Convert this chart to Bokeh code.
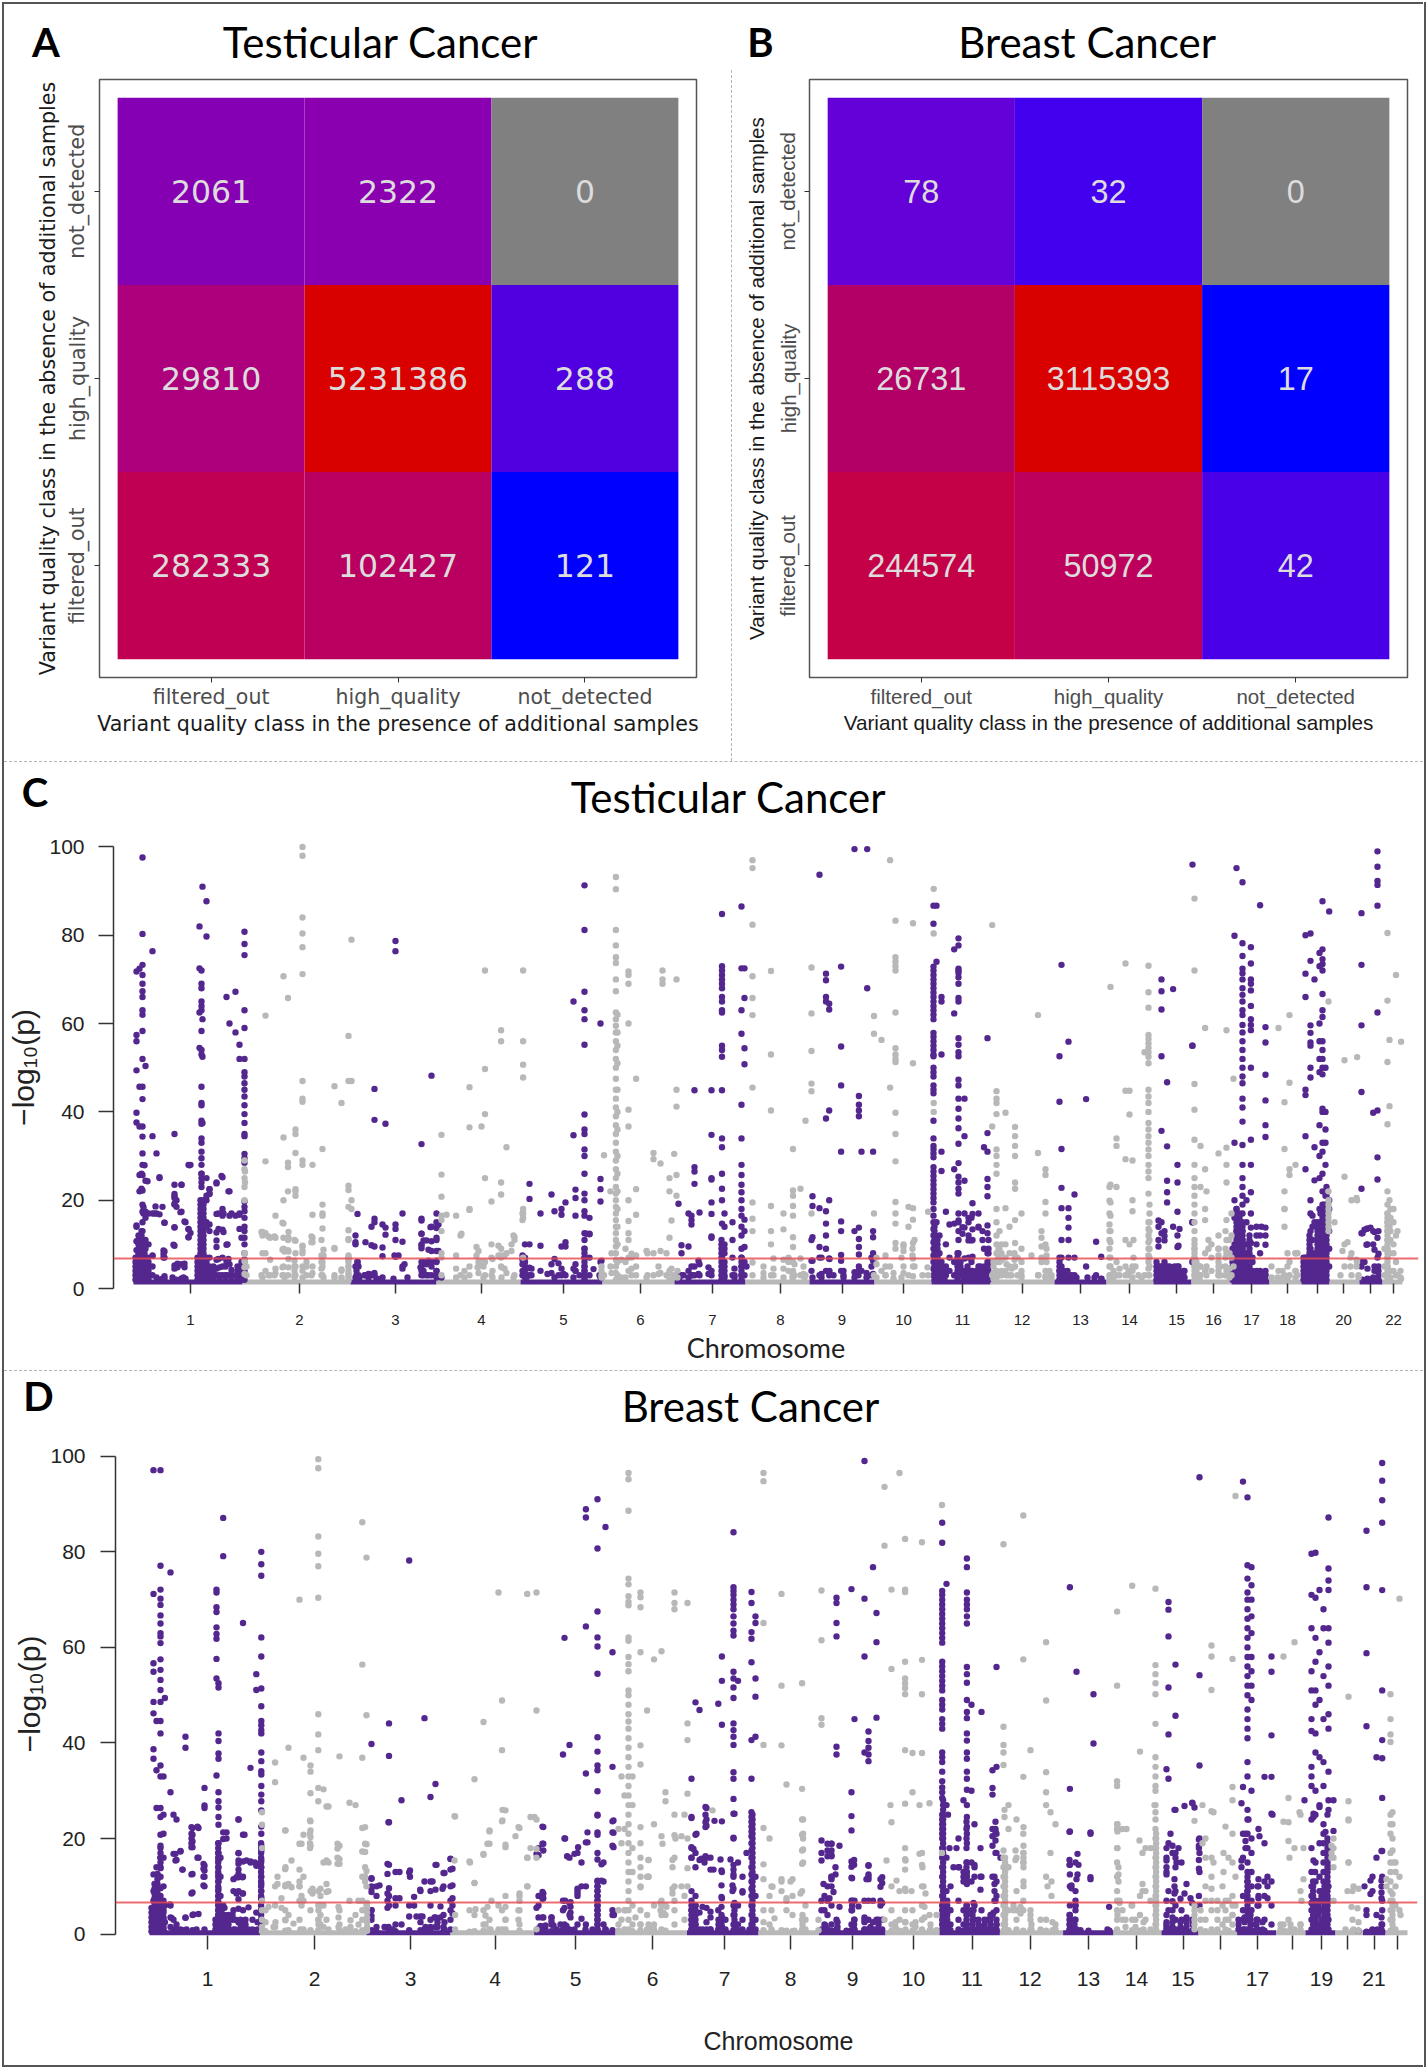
from bokeh.embed import file_html
from bokeh.resources import INLINE
from bokeh.plotting import figure
from bokeh.layouts import column, row
from bokeh.models import (ColumnDataSource, FactorRange, FixedTicker, Range1d, Spacer, Span)
from bokeh.core.properties import value

CLASSES = ["filtered_out", "high_quality", "not_detected"]
HEAT_X = CLASSES * 3
HEAT_Y = ["filtered_out"] * 3 + ["high_quality"] * 3 + ["not_detected"] * 3
A_COUNTS = [282333, 102427, 121, 29810, 5231386, 288, 2061, 2322, 0]
B_COUNTS = [244574, 50972, 42, 26731, 3115393, 17, 78, 32, 0]
A_COLORS = ["#c00052", "#b90060", "#0000ff", "#ac007c", "#d90000", "#5000e0", "#8600b3", "#8a00b0", "#808080"]
B_COLORS = ["#c40046", "#bd005c", "#4a00e6", "#b30066", "#d90000", "#0000ff", "#6400d8", "#4300ee", "#808080"]

# ---- Manhattan data: (genome position, -log10 p, -log10 p, ...)
C_CHROM_TICKS = [189, 298, 394, 480, 562, 639, 711, 779, 840.5, 902, 961, 1020.5, 1079, 1128, 1175, 1212, 1250, 1286, 1316, 1342, 1369, 1392]
C_CHROM_LABELS = ["1", "2", "3", "4", "5", "6", "7", "8", "9", "10", "11", "12", "13", "14", "15", "16", "17", "18", "", "20", "", "22"]
C_BOUNDS = [132, 241, 349, 435, 519, 601, 673, 744, 808, 873, 930, 989, 1053, 1105, 1152, 1190, 1230, 1268, 1300, 1328, 1358, 1381, 1401]
C_FLOOR = 1.5

C_PURPLE = [
 (135,71.8,57.4,56,49.4,39.8,37.6,14,10.7,8.7,7,5,4,3,2.5,2),
 (138,72.4,45.7,36.7,25.7,22,11.6,9.5,6,4.5,3.5,2.5,2),
 (141,97.6,80.3,73.3,71,69,67.3,66,63,62,58.3,52,45.7,42.9,36.7,34.4,30.6,28,25.7,22.2,19,17.4,15,13,11,9.5,8,7,6,5,4,3,2),
 (144,50.4,24.4,17.4,16,11,9,7,6,5,4,3,2),(147,17,10,6,5,4,3,2.2),(151,76.4,34.5,17,7.4,5,3),(155,30.6,17,2.5),
 (158,25,16.8,2),(161,18.5,2.2),(163,14.9,8.4,7,2.2),(173,35,23.5,20.9,19,13.8,9.7,5.2,4.5,2),(175,20,18.5,2),
 (180,23.5,17.4,5.5,2.3),(184,15,2.2),(187,28,13.4,11.6),(189,28,12.6),
 (198,82,72.5,62.5,54.5,7,5,4,3,2.5),
 (200,72,69,68,65,64,63,58.3,54,53,45.7,42,41.5,38,37.3,34,33,31,29.5,28,26,25,23,19.5,18.5,17.5,17,14.5,12,8.5,7,6,5,4,3,2),
 (201,91,61,52.5,37.5,19,17,16,14.5,10,7,5,3),(205,87.7,79.7,25,21,20,14.5,5,3),(208,22.5,21.5,14.5,7,3),
 (215,23.8,16.9,12.7,6.5,4.5,3),(221,25.2,18,16.5,13.3,7,5,3),(225,66,9.9,6,3),(228,60,22,16.5,5.5,3),
 (234,67.2,58,16.5,3),(238,55.2,52,16.7,3.5,2.5),
 (243,80.8,78,75.5,63,59,52,49,48,46.5,45,43.5,41.5,39.5,37.5,35,34.5,30.5,29.5,28.5,19.7,18.5,17.5,16,14,13,11.5,10,8,6.5,5,4,3,2),
 (354,12,10.5,10,5,2.5),(356,16.9,6),(364,10.5,3),(370,14,9.8,3.2),(373,45.2,38.2,15.8,15,9.5,3.5),(381,14.5,9.3,7.3,2.5),(384,37.3,13.8,12.2),
 (394,78.7,76.4,14.5,13.5,11,7.2),(401,17,10.6,5,4.5),(420,32.7,15.8,12.4,10,9.1,6,5,4,3),(425,10.9,5.5,3),
 (430,48.2,14,10.7,8.5,6,5,3),(435,17,15,13.7,11.5,8.5,6,4,2.5),
 (523.5,10,7,6,5,3.5,2.5),(528,23.7,20.3,10,4.7,3),(539,9.7,17,4),(550,21.3,5.5,3.5),(553,17.5,2.5),(560,18,16.7,9.5,4.5,3),
 (564,19.5,10.5,9.5,3),(572,65,34.7,4.5,2.5),(574,22.4,20.5,16.5,4),
 (583,91.3,81.2,67.2,63,61,55.2,39.4,36,35,31.5,30,26,21.5,20,17.5,16.5,12.5,11,9,7,5,4,3,2),(588,16,12.3,7,3),(599,60,24.8,22.5,19.7,6,2.5),
 (677,19.2,3),(680,9.8,8,3),(687,9.5,17,4,2.5),(690,16.5,15.5,14.5,3),(693,44.9,27.5,26.5,23.7,5,3),(698,17.2,5.5,3),
 (710,44.9,34.8,25,24.7,19.5,16.9,11.8,11.5,4,3),
 (720.5,84.8,73,72,71,70,69,68,66,65,63,62.5,55,54,52.5,44.9,34,32,26,22.6,20,14.7,10,7,5,3),
 (723,17,14,9,5,3),(731,15,11,7,3),
 (740,86.5,72.5,63,57.7,41.6,34,28,25.7,23.5,21.8,20,18,16.5,14,12,9,7,5,3),(743,72.5,65.8,54.4,50.8,15.6,13,9.4,6,3),
 (811,20.9,18.7,11.6,6.3,2.5),(818,93.7,18.2,9.4,7,3),(824.5,71.3,69.8,66,65,38.5,17.5,14.7,12,9,4),
 (827.7,64.5,63.2,40.3,20,6.8,3),(839.6,72.9,54.8,46,31,15.2,13,7.6,6.3,4),(853,99.5,13,3.7,2.5),
 (857.4,43.6,41.6,40.3,39,13.8,11.2,9.4,7.7,5),(860,31,4),(865.7,99.5,68,2.8),(871.6,31,13,11.6,8,6.3,3.3),
 (932,86.7,82.6,72.9,72,71,70,69,68,67,66,65,64,63,62,61,57.9,57,56,55,54,53,52.6,50,49,48,46,45,44.2,38,34,32.3,31.5,30.6,29.7,27.5,26.5,25.5,24.5,23.5,22.5,21.5,20.5,19.5,18,16.5,15,13.5,12,10.5,9,7.5,6,4.5,3),
 (935,86.7,74,15,10,7,5,3),(938,12,8,4,2.5),(940,66,65,53,31,26.6,6,3),(944.4,17.4,10,5,3),(948,14.5,7,4),(952.7,76.8,62.3,27,14.7,6,3),
 (957,79.3,77.7,72.4,72,71.5,70.5,69,65.8,65,56.7,55.2,53.5,52.6,47.3,46,43,40.7,38.5,36.3,32.8,28.4,25.3,24,22.6,21.5,17,15,13,11,8,6,4,3),
 (963,43,34.5,24.4,17,13.8,6.8,3),(967,16,12,7,4),(971,19.3,13.4,11,7.2,4),(977,17,13.8,5,2.5),(982.5,32,9,4),
 (986,56.7,35.2,31,24.8,23,20.9,14.3,12.5,8,6,4,2.5),
 (1060,73.3,31.6,22.8,18.2,11,7,5,3,2.2),(1058,52.6,42.3,4,2),(1067,55.9,18.2,16,13.8,11,7,3),(1073,21.3,7,3),(1084.6,42.9,5),(1094.6,10.6,3),(1099.7,7.2,2.2),
 (1160,70,67.3,63.2,52.6,35.7,15,12.5,5,3.5,2),(1165.6,46.7,32.2,24.4,21.8,19.5,5,3),(1171.6,67.8,14,4),(1176,28,24,17.4,12,9.4,5,3),(1183,4,2.5),(1190.8,55,15,6),
 (1191,96,55),(1233,79.9,33,20,16,10,7,5,3),
 (1235,95.2,18,13,9,6,4),
 (1241,92,78.2,75.3,72.4,71.4,70,68,66.5,65,63,61.9,59.7,58,56,54,52,50,48,46.5,43,41,37.8,32.5,28,25,23,21,19,17,15,13,11,9,7,5,3),
 (1245,20,15,10,6,3),(1249.4,77.3,73.6,70,69,67.5,64,61,59.7,58.5,50,33.7,28,21.8,17,13.8,10.3,6.8,3),(1258.6,86.8,12,8,4),(1264,59.2,55.7,48.4,42.6,37,34.3,13.8,12,9.9,3),
 (1304,80,71.3,66,45,43.8,34.5,27,7,5.5,4,3),(1309,80.4,74.2,59.6,57.9,55.7,55,50,47.8,20,17,13,11,9,7,5,3),(1313,70,32,24.5,15,8,4),
 (1318,76,73,60,56,52,49,37,30,25,18,14,10,7,5,3),(1321,87.7,76.8,74.6,73.5,72,66.7,63,61.5,56,54,52,50,48.5,40.7,40,33,31,26,22,19,16,14,12,10,8,6,4,2.5),
 (1324,50,40,36,33,28,21,19,17,15,13,11,9,7,5,3),(1327.7,85.4,20,18,13,9,5),
 (1360,85,73.3,59.6,44.5,22.6,12.5,5),(1363,13.3,6),(1366,13.6,10,4.5,2.2),(1371.7,39.8,13,10,2.5),(1376,99,95.5,92.3,91.4,86.7,62.5,40.3,29.7,24.7,11.5,7,4,2.2),
]
C_PURPLE_LOW = [
 (134,2,3,4,5,6,7),(137,2,3,4,5,6,7,8,9,10,11,12),(140,2,3,4,5,6,7,8,9,10,11,12,13),(143,2,3,4,5,6,7,8,9,10,11),(146,2,3,4,5,6,7),(135,14.3),(142,18.4,17),
 (153,17),(154,18.6),(163,14.9),(151,7.5),(162,8.6,7.8,7),(172,9.9),(173,13.9),(173,21.4,20.5,19.2),(180,23.5),(179,17.3),(183,15.2),(187,13.5,11.6),(176,5.6,4.8),(183,5.6,4.8),(143,27.9),(140,26),(146,24.3),(158,25.2),(140,22.6),(188,27.9),
 (163,2.8),(171,2.5),(182,2.5),
 (196,2,3,4,5,6,7),(199,2,3,4,5,6,7,8,9,10,11,12,13,14,15,16,17,18,19,20),(202,2,3,4,5,6,7,8,9,10,11,12,13,14,15,16,17,18,19,20),(205,2,3,4,5,6,7,14,15),(208,2,3,4,5,13),
 (200,26,24),(208,22.5,21.4),(220,25.5),(215,24),(227,22),(217,17),(222,17),(230,17),(238,17),(217,13.5),(222,12.8),(215,10.9,9.4),(226,10),(238,13.5),(240,11.5),(217,6.7),(227,6.7),
 (212,2,3,4,5),(218,2,3,4.8),(224,2,3,5),(230,2,3,4.2),(236,2,3,4,5),(240,2,3,4,5,6),
 (356,6),(355,4,2.5,3),(357,5,3),(358,2.5),(363,3),(367,2.5,3.3),(370,3),(373,3),(375,2.3),(380,2.2),(392,2.2),(393,7.5),(397,7.5),(403,5.5),(406,2.5),
 (420,15.4),(429,13.9),(437,14.5),(420,12.4),(422,10.9),(435,11),(420,9.7),(427,8.8),(437,8.5),(422,6,4,3),(419,4.8),(427,6.3,3),(435,6.3,4,3),(440,2.5),
 (521,7.5,6.5,5.5,4,3),(525,4.5,3,2.5),(530,4.5,3),(546,3.3),(553,6.7),(557,5.7),(557,3),(562,3.3),(574,5.5,4),(578,3),(583,9,8,7,6,5,4,3,2),(585,12.4),(588,12.4),(592,4.4),(600,6.3),(598,3),(600,2.5),
 (678,2.5),(682,3),(690,5,3),(697,6.3,3.3),(707,4.8,3.3),(720,11,10,9,8,7,6,5,4,3,2),(723,10,8,6,4,2.5),(733,4.5,3,2.5),(740,7,6,5,4,3,2),(745,5),
 (810,11,6.3,4),(820,7,3.3,2.5),(828,6.7,4),(832,3),(842,4,3,2.5),(857,4,3),(865,3.5,2.5),(870,7,5,3),
 (933,2,3,4,5,6,7,8,9,10,11,12,13,14),(936,2,3,4,5,6,7,8,9,10,11),(939,2,3,4,5,6),(943,2,3,4),(956,2,3,4,5,6,7,8),(959,3,4,5,6),(962,2,3,4),(966,2,3,4,5),(970,2,3,4,6),(975,2,3,4),(979,2,3,4,5),(983,2,3,4,5),(987,2,3,4,5,6,8,9,11),
 (961,13.9,12.4),(967,15,10.9),(970,16),(957,15.4),(971,16.9),(977,14),(970,10.9),(981,13,11),
 (1058,2,3,4,5,6,7),(1062,2,3,4),(1066,2,3,4),(1070,2,3),(1075,2.5),(1100,2.2),(1086,2.5),(1093,2.5),
 (1155,2,3,4,5,6),(1158,2,3,4,5),(1163,2,3,4,5),(1168,2,3,4,5),(1173,2,3,4,5),(1177,2,3,4,5),(1182,2,3,4),(1157,15.4,14),(1163,13,11.9,10.9),(1157,11,9.5),(1178,13.5),(1177,9.7),(1163,6),(1191,15),
 (1231,2,3,4,5,6,7,8,9),(1235,2,3,4,5,6,7,8,9,10,11,12,13,14,15,16,17,18),(1238,2,3,4,5,6,7,8,9,10,11,12,13,14,15,16,17),(1241,2,3,4,5,6,7,8,9,10,11,12,13,14),(1245,2,3,4,5,6,7,8),(1248,2,3,4,5,7,8,9,11,12),(1251,2,3,4,6,7),(1255,2,3,4,10,12,14),(1260,2,3,14),(1264,2,3,4),
 (1302,2,3,4,5,6,7),(1305,2,3,4,5,6,7),(1308,2,3,4,5,6,7,8,9,10,11,12),(1311,2,3,4,5,6,7,11,14,16.5),
 (1316,2,3,4,5,6,7,8,9,10,11,12,13,14,15),(1319,2,3,4,5,6,7,8,9,10,11,12,13,14,15,17),(1322,2,3,4,5,6,7,8,9,10,11,12,13,14,15,16,17,18,19),(1325,2,3,4,5,6,7,8,9,10,11,12,13,15,17,19,21,23),
 (1361,2,6,12.5),(1365,2,13.5,9.9),(1369,2,13.8),(1373,2,5,4,12.8,8.8),(1377,2,3,4,5,13,7.9),
]
C_GREY = [
 (243.5,26.5,24,8,6),(261,12.8,12,8,2.5),(264,61.8,28.8,12.5,8,4),(268.6,11.5,6.5,3),(274,11.5,16.5,4.5,3.5),
 (282,70.7,34.2,20,14.7,11.5,9,5,3),(286.5,65.8,28.5,27.5,22,11,8.7,3),(294,36,35,30.7,22.5,22,21,10.8,8,5,3),
 (301,100,98,84,80.4,77.3,71.2,47,43,42.3,29,28,9.5,8,5,4,2.5),(311,28,16.7,11.5,10.5,5,3.5),(321,31.6,19,17,16.5,13.6,7.5,6,5,3),
 (333,45.8,9,3),(340,42,4.3,2.5),(347,57.2,47,23.3,22.3,18.5,13.2,11.2,7,6.5,5,3),(350,79,47),
 (440,34.8,25.8,20.8,16.5,15.5,13,8,7,3),(454.6,16.5,7.5,4.5,2.5),(459,12,3),(468,45.6,36.5,17.8,5,3),(477,8.5,6,5,3.5),(480,36.7,6),
 (483.5,72,49.7,39.5,25,6,3),(490,19.7,10,7,3),(499.6,58.5,56,24,21.3,9,7,5),(505,32,8,3.5),(513,11.7,11,3),(521.6,72,56,50.7,47.8,18,17,16,7),
 (602.5,30.2,3),(609,22,5),
 (614.4,93.2,90.4,81.2,77.7,75,73.7,70,67.3,62.5,61,59.5,58,56,54,52,50,47.5,45,43,41,39,37,35,33,31,29,27,25,23,21.5,20,18.5,17,15.5,14,12.5,11,9.5,8,6.5,5,3.5,2),
 (616,62,58,55,51,45,40,36,30,26,22,18,14,10,6,3),(627,71.8,71,69,60,40.5,36.7,20,15.3,12.5,11,7,4),(634.6,47.5,22.5,16.7,7.5,5,3),
 (646,8,3),(652,30.7,29.3,8,3),(659,28.3,8.5,3.5),(661,72,70,69),(668,25,22,11.5,4),(672.7,30.5,3),(675,70,45,41.2,25.7,21),
 (751,97,95.2,82.4,70.7,65.8,61.9,45.5,19.5,15.8,13,5.9,3),(769.5,71.9,53,40.3,18.7,13,10,3),(782,17,13.4,6.5,4.5,2.5),
 (791.5,31.6,22.2,21,18.7,16.5,11.6,9.4,6,4,2.5),(799,22.6,6.8,3),(804,38,3),(810,72.7,62.3,53.8,46.4,44.7,17),
 (872.5,61.7,57.7,17,3),(880,56.3,4),(884,7.5,3),(888.6,97,45.5,5),(894,83.3,75,74,73,72,62.5,54.4,53,52,51.3,39.8,35,28.8,19.6,17,14.7,10.3,9),
 (902,3.5,5),(907,18.5,14,3),(911.5,82.7,51,18.2,15.6,10.3,6.8,5,2.8),(926.6,17.4,3),(932.2,90.5,80.4,42,40),
 (995,44.7,43,42,39.5,31.5,30,28,26,18,15,12,10,8,6,4,2.5),(990.7,82.3,36.7,3),(998,13,9,6,3),(1004,39.8,18.2,10,7,4),(1008,14,8,5,3),
 (1013.6,36.6,34.5,32.3,30,24,22.6,15.5,10.3,7.2,5),(1020,17,9,6,3),(1036.5,61.9,30.7,3),(1040,13,9.5,6),(1044,27,25.7,19.6,17,10,2.8),(1050,3,2.2),
 (1109,68.3,23.5,19.5,16.5,13,10.5,7,5,3),(1115,34,32.3,23,6,3),(1124,73.6,44.8,29.3,11,5,3),(1128,44.8,39.4,10,4),(1131,29,20,17.5,5),
 (1143,53.5,3),(1147,73.1,67.1,63.6,57.4,56.5,55.5,54.5,53.5,52.5,51,45,43.5,42,40,37.5,36,34.5,33,31.5,30,28,26.5,25,21.5,15,13.5,12,10.5,9,7.5,6,4.5,3),
 (1193,88.3,72,46.3,40.5,33.7,28,25,23,21,19,17,15,13,11,9,7,5,3),(1199,32.3,23,5,3),(1203.6,59,27,18,15.5,8,4),(1210,10,7,4),(1217,30.6,12,9,5,3),
 (1225,58.5,31.9,28,24,15.5,11,8,4),(1230,17,12,7,3),(1232,47.5,5),
 (1277,59,4),(1283,42.2,31.6,18,14,3),(1288,61.9,46.6,25.7,27,6,3),(1294,28,8,4),(1327,65,19,17,15,13),
 (1343,51.7,25.3,10,5),(1350,20,8,3),(1355.6,52.4,20,6),
 (1386,80.5,65.2,51.3,37.2,22,19,17,15,13,11,9,7,5,3),(1388,56.3,41.3,20,14,8,4),(1394.5,71,12,6,3),(1399.6,55.9,2.2),
]
C_GREY_LOW = [
 (243,29,27,25,23,20,7.9,6.3,4.8,3.3),(245,5,3),(260,12.8,3),(267,11.8,3),(273,11.8,3),(281,14.9,8.8,4.8,3),(283,8.4,2.5),(287,12.8,11.5,8.4,6.7,4.8),(293,11,6.3,5,4,3,2.5),
 (301,9.7,8.6),(310,11.8,10.5,3),(305,6,5,3),(320,11,7.5,6,4.5,3),(322,8.8,7.5,2.5),(333,9.2,2.5),(340,4,2.3),(347,1.8,2.5,3.3,4,5,6,7,7.5,11),(350,20,18),
 (445,16.7),(468,18),(482,5,2.5),(460,12.4),(463,4,2.5),(475,9.4,7.5),(476,4.8),(491,2.5,4,6.7),(497,9.7,7.5),(500,7.5,4.8,2.5),(503,7.5,4.5),(510,10,8.5),(512,12,2.5),(521,17,15.5),
 (600,5,4,3,2.5),(610,8,3.5),(620,6.5,2.5),(624,9,6,2.5),(630,7.9,7,4.5,3),(645,8.5,2.5),(657,5,3.3),(665,8,3),(668,3.5,2),(670,15.4,4.5),(672,2.5),(676,4,2.5),
 (762,5,3.5,2.5),(772,6.8,4.5,3),(787,7,6,4),(791,3.3,2.5),(793,5.5,3),(802,5,3.3),(803,2.5),
 (875,7,5.5,2.5),(884,5,3),(892,3.5,2.3),(900,7,2.5),(902,9.5,8.5,10),(911,9,7.5),(913,11,5),(921,3),(926,4.8),
 (992,6,5,3.5,2.2),(995,3),(997,9,7,6.5),(1000,10,8,6.5,4,3),(1005,5.5,3),(1010,4.5,3),(1013,8,6.5,5),(1016,7,3),(1020,4,2.5),(1030,7.5),(1037,3),(1040,11.5,7),(1045,9,7.5,6),(1048,4,2.8),(1044,4,2.5),
 (1108,23,19.9,17,14.5,13,11,9,7,5,3,2.5),(1112,4,2.5),(1118,4.5,3),(1127,4,3),(1131,4,2.5),(1132,11,7),(1134,5),(1137,3),(1140,2.5),(1148,19,17,15,13,11,9,7,5,3),
 (1193,2,3,4,5,6,7,8,9,10),(1195,6,4),(1198,5,3,2),(1205,22,5,3),(1207,11,9),(1217,9,7.5,6,4,3),(1219,5,3),(1224,13,9,7,5,3),(1226,3),(1228,11,8,4.5,2.5),
 (1270,5,2.5),(1276,2.5),(1281,4,2.5),(1283,22,18),(1286,8,5,2.5),(1294,8,4,2.5),(1296,8,3),(1327,22,20,18,16,14),(1333,15),
 (1339,3),(1341,8.5),(1346,10.5),(1349,7,5),(1355,6.5,5),(1357,3,2.5),(1355,20.5),(1383,9,5,3),(1386,2,3,4,5,6,7,8,9,10,11,12,13,14,15,16,17),(1389,18,16,13,11,4,2.5),(1392,18,15,10,8,4),(1396,13,3),(1399,4,2.5),
]

D_CHROM_TICKS = [207, 314, 410, 494.6, 575, 652, 724, 790, 852, 913, 971.5, 1029.6, 1088, 1136, 1182.5, 1219.6, 1257, 1291.5, 1321, 1347, 1373.5, 1397]
D_CHROM_LABELS = ["1", "2", "3", "4", "5", "6", "7", "8", "9", "10", "11", "12", "13", "14", "15", "", "17", "", "19", "", "21", ""]
D_BOUNDS = [149, 259.5, 366, 450, 533.6, 615, 686.5, 758, 818.5, 885, 939, 999.4, 1062.6, 1113, 1161, 1198, 1236.6, 1275.5, 1305, 1335, 1362.5, 1385, 1407]
D_FLOOR = 0.3

D_PURPLE = [
 (153,97.1,71.2,56.7,54.9,48.6,46.2,38.7,36.7,12.5,9,7,5,3,1.5,0.6),(156,44.6,34.3,26.4,14,8,4,2,0.7),
 (160,97.1,77.1,72.1,70.2,68.9,66.7,65,63,62.3,60.9,57.5,55.3,53.2,51.1,48.6,44.6,42,35.3,33,26.4,24.5,20.8,18.5,16,13.8,12,9.6,8,7,6,5,4,3,2,1,0.5),
 (163,33,25,21,16,10,7,5,3,1),(164.4,49.4,6,2.5),(170,75.7,29.7,6,3.5,1.5),(173,25,16.8,3,1),(176,24,15.5,2),(180,17.3,1),(182,13.5,0.8),(185,41.3,39,3.5,0.8),
 (192,22.2,20.8,19.4,18.2,12.6,8.7,4,0.8),(198,22.2,16,4.2),(204,30.6,26.9,26.4,14.3,13.3,12,10,1),
 (216,72.1,71.5,68.4,67.4,64.2,62.8,61.8,57.6,53.5,33.2,3,1),
 (218,52.5,51.6,42,40.4,37.8,36.7,29.7,27.8,26.5,24.5,22.9,19,17,15.5,14,12.5,11,9.5,8,6.5,5,4,3,2,1,0.5),(220,16,12,8,5,3,1.5,0.6),
 (222.7,87.1,79.1,21.3,19.9,6,3,1),(233,11.5,9,5,1),(238,24,16.9,14.7,11.9,9,7.3,2.5,0.8),(242.5,65.1,20.8,15.2,12,8.5,5,1),
 (250,34.8,15.2,15,0.8),(255.8,54.4,51.1,14.3,4.5,0.7),
 (260.8,80,77.4,75,62.1,58.1,51.4,47.7,44.6,43.7,42.7,42,38,36.2,34.1,33.4,31,29.2,27.8,25.9,22.5,21,18.5,17.5,15.5,14,12,10.5,9,7.5,5,3,1),
 (371,39.8,11.7,9.6,5,3,0.8),(376,10,8,1.5,0.5),(388.5,44.1,37.3,23.4,14.5,9.6,8,6,0.8),(395,13,7.5,6,2,0.6),(401,28,2),(408.7,78.2,12.9,6,3.7,0.8),
 (420,9,3.7,2.5,0.8),(424,45.2,11,1),(430,28.7,11,9,6,3,1),(435,31.4,14.5,9.3,3.5,1.5),(443,12.8,10,4,1.5,0.6),(450,15.7,13.5,10,7,5,3,1),
 (538,18,16.5,8,6,3.5,1.2),(542.8,22.4,18.9,17.5,8.5,7.5,3.5,0.8),(551,3.5,2,0.6),(560,2,0.6),(562.5,37.6,7,5,1),(564,62,20,5.5,2),(569,39.6,16,6.5,4,1),
 (577,17,9,8,2),(585.4,88.9,87.2,64.4,33.6,19.2,10,2),
 (597,91,80.7,67.5,62.1,60.2,54.5,41.2,38.2,35.3,34.3,29.9,24.8,21.3,20.8,17,11,10,9,8,7,6,5,4,3,2,1),(603,15,11,2),(605,85.2,1),
 (612,59,35,23.6,21.3,18.5,5,4,0.8),
 (691,32.5,24.3,18,16,9,5,3,1),(695,48.5,20.8,17,14,8,6,2,0.7),(699,46.9,15.5,4.5,1),(706,26.4,24,22.7,16,5.5,2.5,1),(710,13.5,3.5,1),
 (717.8,48.2,5,1),(721.4,58.1,53,43.8,23.6,13,7.5,3.5,1.5,0.7),
 (733,84.1,72.6,71.8,71,70,69,68,66.5,65,63.5,62.5,54.9,53.5,51.6,49.4,44.1,42.7,41.3,39.6,33.9,32.5,28.3,25.2,20,14.5,12.5,9.5,6,4,2,0.8),
 (737.5,53,15,6,2,0.8),(742,12,9,3,1),
 (751,71.6,69.3,63.2,61.8,56.9,40.6,32.5,25.5,24.5,23.5,22.5,21.5,20.5,19,17.5,16,14,12.5,11,9.5,8,6,4,2,1),(755,66.5,65.1,53.5,49.7,41.3,12,8,3,1),
 (827,18.9,17.5,16.3,10,7,4,1),(824,8,5,2,0.7),(831,18.9,17.5,16.3,12,10,6,2,0.7),(836,70.4,69.3,65.1,62.3,39.2,37.6,3,1),
 (851,72.2,29.7,24.7,21.7,15.2,14.1,11.8,7,5,2,0.8),(854,45,7,3,1),(864,99,70.2,58.1,38,7,3,1),
 (868,42.4,40.4,39,37.6,36.2,14.3,12.5,11.5,3,1),(872.5,76.8,7,2.5),(876,67.2,61.1,45.3,3,1),(881.7,11.9,10.7,6.5,3,1),
 (941.7,86.1,81.9,71.8,71,70,69,68,67,66,65,64,63,62,61,57,56,55,54,53,52,51,49,48,47,45,44,43,38,37,36,34,32,30.7,29.7,28.5,25,24,23,22,21,20,18,16,14,12,10,8,6,5,4,3,2,1),
 (946,73.3,27,16,9,6,4,2,0.7),(950,10,5,2,0.8),(958,20,14,7,3,1),(963,28,13,12,11,5,2,0.7),
 (966.4,78.6,76.8,71.5,70,69,68,66.5,65,55.9,54.4,52.6,49,46.5,45.2,42,40.5,38,36.7,34,32.5,30.2,27,24.5,22.5,21,19,15,13,12,10.5,6,4,2,0.6),
 (971,48,30,15,11,5,1),(974,14,12,6,3,1),(981,46.5,12,5,1.5),(987,3,1),(992,34.3,30.6,29.2,22,20.5,18.5,12,4,1),(996,55.9,35,21,17,11,8,5,2,0.7),
 (1069.4,72.6,30.4,21.5,14.5,12.5,10,6,4,2,0.7),(1075,15,9,6,3,1),(1076,54.9,11.5,1),(1093,50.2,39.9),(1090,21.3,11.9),(1109,0.7),
 (1166,34.5,16,13,7,4,2,1),(1168,69.5,67.9,62.3,51.6,41.8,32.5,19,9,5,1),(1175,56.4,45.7,26,17,16,14,9,6,3,1),(1181,15,5,3,1),(1191.7,27.5,6.5,3,0.7),(1199,95.6,54.2,35.3,20,17,13,6),
 (1194,26.5,0.6),
 (1242.5,94.7,30.8,21,16,8,5,3,1),(1247,91.4,77.2,74.4,71.5,70,68,66,64,62,60,58,56,54,52,50,47,45,43,41,36,33,26,24,21,18,15,13,11,9,7,5,3,1),
 (1251,76.8,73,70,66.5,63,58,55,52,49,30,20,17,13,10,7,5,2,0.7),(1257,10,6,3,1),(1264,32.9,19,11,8,3,0.7),(1271,58.1,54.9,41.6,32.9,25.2,11,6,2),
 (1311,79.6,71,64,55,51,45,42.5,35,33,31,24,18,13,10,8,6.5,5,3,1),(1315,79.8,70.4,62,57,51,48,42,38,30,25,15,11,7,5,3,1),
 (1319,72,59,49,37,27,19,12,9,7,5,2,0.6),(1323,68,64,54,45,36,31,23,21,19,17,15,13,11,9,7,5,3,1),(1328,87.2,76.5,74,72,64,61,56,52,46,43,34,28,26,18,14,10,7,3,1),
 (1366,84.4,72.6,58.8,43.5,5,0.5),(1372,12,9,1),(1376,37,16,4,0.5),(1381.7,98.6,94.9,90.8,86.1,72,51,40.6,36.8,28.5,17.4,12,7,5,2,0.5),
]
D_PURPLE_LOW = [
 (151,0.6,1.5,2.5,3.5,4.5,5.5),(154,0.6,1.5,2.5,3.5,4.5,5.5,6.5,7.5,8.5,9.5,10.5),(157,0.6,1.5,2.5,3.5,4.5,5.5,6.5,7.5,8.5,9.5,10.5,11.5,12.6),(160,14,15,16,17,18),(163,0.6,1.5,2.5,3.5,4.5),
 (175,16.8,15.4),(180,17.4),(182,13.5),(191,12.5,8.5,22.4,21,20,19,18.2),(197,22.5,16),(203,14.7,13.7,12,10.2),(169.6,6.2),(171,3.4),(185,3.4),(193,4.1),(176,1,0.7),(186,1),(196,1),
 (217.7,19,18,17,16,15,14,13,12,11,10,9,8,7,6,5,4,3,2,1,0.5),(215,3,2,1,0.5),(221,5,4,3,2,1,0.5),(224,5.5,4,3,2,1),(228,4,3,2,1,0.7),(226,21.3,20),(232,4,3,0.7),
 (238,24,17,15.4,13.5,12.6,5.3),(244,20.8),(246,15.4),(254.4,15),(236,11.9,8.5),(242,11.9,8.5),(248,5.6,1),(235,3,1),(240,3,2,1),(245,3,2),(252,3,1),(257,2.5,1),
 (260.6,19,18,17,16,15,14,13,12,11,10,9,8,7.5,6,5,4,3,2,1),
 (371,11.6,10,8.8,5,3.8),(379,10.2),(387,8.5,7,14.7,12.6,5.5),(399,13,7.5),(409.5,13.3,12),(413.6,7.8,6),(419.7,9.3),(432,11),(436,14.5),(444,12.8),(442,9.5),(450,15.8),(452,13.7,10.2,7.5,6,4.3),
 (416,3.7),(422,3.7),(434,3.5),(440,5.8,3.5),(388,1.5),(384,1.5),(392,1),(425,1.5),(430,1.5),(437,1.5,2.5),(444,1,2.5),
 (388,23.4),(542,22.5,18.9,8.8,7.4),(536,16.8,5.5),(542,3.5),(551,3.5,2.7),(564.6,20,7),(574,16.8),(566.6,16.3),(577.6,18.2),(587,21.3,19.2),(597,25,15.6,11.2),(613,23.8,21.2,18.2),(581,15),(601,14.6),(601,11.2),(581,10),(577,9.5,8.5),(570,6.7,5.7,4.5,3.5),(553,1.8),(613.4,4.5,4),(581,3.2),
 (597,10,9,8,7,6,5,4,3,2,1),(540,1,1.7),(545,1,1.8),(556,1,0.8),(566,1,1.7),(574,1),(585,1),(592,1),(605,1),
 (691,24.5,18.2,16,7,6,5,4,3,2,1),(705,26.6,25,23.4,22.4,16.3),(714,23.7),(734,25.2),(696,21),(733,20.2),(693,17.8),(701,15.8),(710,16),(720,15.6),(730,15.6),(704,15),(713,13.5),(721,13.3,10.2),(733,13.5,12),(732,10.2,9),(742,8.7),(721,7.8),
 (695,6,5,4,3,2,1),(702,5.7,1),(710,4.7,1),(718,3,2,1),(734,6.5,5,4,3,2,1),(721,5.7,4,3,2,1),(725,3,1),(749,0.5,1),(752,25,24,23,22,21,20,19,18,17,16,15,14,13,12,11,10,9,8,7,6,5,4,3,2,1,0.5),(746,17),
 (821,19.6,17,15.4,7,5,1),(831,18.9,16.5,11.5),(839,18.5),(853.6,15.5,14.5),(851.6,11.7,7,6,5),(868,14.4,12,7,1),(866,11.5),(835,14,12.5),(831,12),(823,10.5),(880,11.5,9.9,7,6),(833,8.8),(829,7.5),(839,5.7),(858,5.8),
 (825,1.8,0.7),(837,2.5,1.5,0.7),(853.6,3,2,1,0.7),(864,3.5,2.5,1,0.7),(878,3,2,1,0.7),(846,0.7),(870,1.5),(873,1),
 (942.6,28,27,26,25,24,23,22,21,20,19,18,17,16,15,14,13,12,11,10,9,8,7,6,5,4,3,2,1,0.5),(946.7,7,6,5,4,3,2,1),(947.5,25),(949,18),(956,18),(953,14),(958.6,14),
 (966,23.5,22,20,18,15,14,12.5,11),(974,23),(974,14.5),(980,18),(980,12),(980,9.3),(995,23.5,22,21.5,19.6,17),(1000,16),(994,12,10.5,9,7),(966,6,5),(973,6.5,5),(995,7),(993,4.5),
 (966,4,3,2,1),(972,4,3,2,1),(978,3,2,1),(984,3,2,1),(990,4,3,2,1),(996,3,2,1),
 (1069,21.4),(1090,21),(1077,16.8),(1069,15.5,14.5),(1078,14.5),(1077,12.5),(1090,11.5),(1071,10.2,9.6),(1075,7,6,5),(1108.6,5.7),(1069,4,3,2,1,0.7),(1074,3,2,1),(1080,0.8),(1088,0.7),(1107,1),
 (1170,21),(1172,18.5,17),(1166,18),(1178,18),(1166,15.4,14,12.5),(1176,15),(1174,11.5,10,8.5),(1186,10.5),(1184,8.5),(1190,7.5),(1180,7.4),(1172,6.9),(1172,5,3.5),(1166,2.5,1.5,0.6),(1172,2.5,1.5,0.7),(1180,2.5,1.5,0.7),(1186,3.5,2.5,1.5,0.7),(1192,2,0.7),
 (1174,26),(1184,26.8),(1192,27.4),(1198.4,19.8,18.5,18,15.5,13.7),(1198.4,8),
 (1241,27.4),(1272,25),(1248,24),(1258,22),(1259,20.5),(1245,21,19.5,18),(1241,15.4,14),(1247,12,11,10,9,8,7,6,5,4),(1258,11.5,10,8,7.5,6),(1267,12,10,7.5),(1238,3,2,1),(1244,3.5,2.5,1),(1250,4,3,2,1,0.6),(1256,3,2,1),(1262,2.5,1),
 (1304,28),(1313,25.2,24.5),(1319,26.6),(1327,25),(1333,28),(1325,21.4),(1333,21.6),(1327,20,19,18,17,16,15,14,13,12,11,10,9,8,7,6,5,4,3,2,1),(1313,15.4),(1314.6,13),(1312.6,11,10,9,8,7,6,5,4,3,2,1),(1321,9,8,7,5,3,1),(1324,10,8,6,4,2),(1318,6,4,2),
 (1381,17.4),(1370,11.2),(1364,10),(1381,11.2,10,8.7,7.5),(1370,8.4),(1358,0.7),(1366,4),(1381,3.5,2,1),(1377,1),(1371,0.6),
]
D_GREY = [
 (261.5,25.5,22.9,18,7,5,3,1.5,0.6),(265,5,2.5,0.6),(274.6,35.9,31.8,10,6,1.5),(284.7,21.7,13.6,10,5,3,0.7),(288,39,10.5,4,0.8),(299,70,18.9,13.5,10,7,3),
 (303,36.9,20.8,12,7,1),(310,35.3,34,29.5,23.6,21.7,20.3,18.5,9,5,0.8),(317.8,99.4,97.5,83.2,79.6,77,70.4,46,41.8,38.5,30.6,27.8,9,6,3,0.8),
 (323,30.3,15,6,1.5),(328,26.7,15,9,1),(339,37.2,18.5,15.7,14.7,5,2,0.7),(349,27.5,7,0.8),(355,27,4,0.6),(361.8,86.2,56.4,36.9,22.2,17.3,12,7,5,3,0.8),(366,78.8,45.8,18.8,13.2,10,6,3),
 (454.6,24.6,4,1),(469,15.2,5,0.5),(474,32.4,10.7,4,0.6),(483,44.4,16.6,5,2,0.7),(489,21.7,18.9,3,1),(498,71.5,6,1),(501.5,48.9,38.5,23.6,5,1),(505,25.9,18.7,8,3,0.5),
 (519,22.2,8,5,2,0.7),(526.7,71.2,16,10),(530,24.5,18),(536,71.5,46.8,24,16,1),
 (618,22,5,2,0.7),(621,33,19,3),(624,29,22,5,1),
 (628,96.5,95.2,88.6,74.4,73.2,70.7,69.5,68.8,62.1,61.4,58,56.5,55,51,50,48,46,44.5,43,41,39,37,35,33,31,29,27,25,23,21,19,17,15,13,11,9,7,5,3,1),
 (632,33,27,18,13,6,2,0.6),(640,71.5,70.5,68.4,59,39.5,35.5,19,14,10,5,2,0.8),(648,12,15.5,2,1),(653.5,57.5,23,6,2,1),(646.6,46.8,12,4,1),(661,59.2,20.5,7,6,4,1),
 (665,29.7,27.8,6,4,0.7),(674,71.5,69.3,68,25,20.7,16,10,7,5,2),(687,69.3,44.1,40.6,29.4,20,13.8,10),(684,25,8,3),
 (763,96.5,94.8,65.1,39.6,22.2,14.6,11.5,5,2.5,0.8),(769,20,8,2),(771,10,5,1),(781,71.2,52,39.5,11.5,9,0.8),(786,31.3,7,0.7),(792,11.5,8,4,0.6),
 (801.6,52.5,30.4,24,20.8,17.5,14.7,9,3,1),(805,6,3,1),
 (821,71.9,61.5,45.2,43.8),(818,3,0.8),(884,93.6,81.3,3),(891,72.1,55.5,23.4,10,5,2,0.7),(899,96.5,9,3,0.7),(904.6,82.7,72.1,71.6,57,53.5,52.5,51.5,50.2,38.5,27.3,18,15.7,13.5,9.5,5,2.5,0.7),
 (912,37.9,29.7,5,2,0.7),(921.5,82,57.4,50.2,37.9,17,14.5,10,6,3,1),(929,27.4,4,0.7),(936,4,0.8),(941.5,89.8,17),
 (1003,81.6,43.4,39.6,38,35.4,17.5,16,14,12,10,8,6,4,2,0.7),(1008,27,22,14,5,0.8),(1016,24,16,9,5,3,1),(1022.8,87.6,57.5,32.9,21,17,15,7,5,0.7),(1030,38.5,5,1),
 (1045.6,61.1,48.9,33.9,29.7,27,12,3,0.7),(1052,2.5,0.8),
 (1116.6,67.5,52,32,31,23,22,18,15,12,9,7,5,3,1),(1122,22,5,3),(1131.7,72.9,6,3,0.8),(1139.5,38.2,8,4,0.7),(1145,18,9,3),(1150,18,7,1),
 (1155,72.3,56.3,54.4,52.5,50.2,44,37,35,33,31,30,27,25.5,24,22,20,18,16,14,12,10,8,6,4,2),
 (1205,20,16,10,7,3,0.6),(1211,60.4,58.1,51.1,25.7,16,12,7,5,1),(1222,10,6,2),(1228,16,7,3,0.7),(1232,57.6,30.8,28,21,15,8,4),(1235,91.7,12,6),
 (1283,58.1,2,0.7),(1288,23.4,28.5,3,0.6),(1294,61.1,18,1),(1300,25,9,2),(1333,20,18,16,14,7),
 (1348,49.7,27.8,24,15),(1352,9,3,0.7),(1358,9.5,2.5,0.7),(1390,50.2,45,41.8,40.2,25,23,21,17,15,13,11,9,7,5,3,0.7),(1395,15,13,10,6,1),(1399,70.2,12,5),
]
D_GREY_LOW = [
 (285,21.7,14,10.3),(309.5,23.8,21,19,18),(301,18.9,8,6),(326,26.7,15.4,10.5,8.8),(337,18.9,17.9,16,14.7),(291,15.4,9.8),(277,12,10.5),(299,11,10),(312,9.5,8.5),(320,9.5,8,6,4,2),
 (364.6,22.4,18.9,17.2,14,12,11),(366.6,6.5,5.5,4.5,3.5,2.5,1.5,0.7),(281,5.5,7.5),(268,5.7),(285,2.9),(293,2.2),(318,5,3,2),(326,3),(338,5.7,3.5,1.5),(350,2.9,1.5),(358,7,2),(273,1.5),(300,1),(345,1),(275,2.5),
 (454,24.7,15.4),(469.5,15),(474,10.7),(483,16.8),(487,18.9),(489,21.5),(502,23.8,26),(518,22.4),(515,20.5),(534,24.5),(505,18.2),(536,17.8),(527,16),(491,7),(487,5.7),(527,10),(519,8.5,7),(475,5.2),(485,3.9,2),(505,5.7,3,1),(518,5,3),(490,1),
 (640,22.4),(662,18.9),(675,20),(681,20.5),(712,25.9),(672,15.5,14),(640,16),(648,15.5),(640,12),(648,12),(640,9.8),(672,9.5,8.5),(681,10),(660,6.5,5),(666,5.7),(625,5),(635,3.5),(652,1.5),(663,4.5),(640,2),
 (802.6,24,21,20,17.7,15),(790,11),(781,11),(772,9.9),(786,7.5),(800,8.5),(786,5),(774,3.3),(794,0.7),(802,4,3,2,1,0.5),
 (890,27),(919,27),(919,16.8),(905,15.4),(922,14),(886,15.4),(896,11.2),(923,10),(925,8.5),(905,9),(911,9),(924,5.7,3.5),(895,2.5,1.5),(905,2.5,1),(915,2.5,1.5),(930,2,1),
 (1004.6,16,15,14,13,12,11,10,9,8,7,6,5,4,3,2,1),(1023,18.5,17,16,15,14),(1023,22.4),(1004,26,24.5),(1015,17.5,15.5),(1023,11,10),(1013,6,5),(1020,5.7,4.3),(1030,4,3),(1050,25.5),(1055,23),(1050,17),(1051,11),(1047,10),(1051,8),(1031,2,1),(1040,3,1),(1055,2,1),
 (1117,23,21.5),(1126,22),(1117,18),(1139,19.6),(1142,17),(1154,18),(1154,27),(1155.6,21,20,19,18,17,16,15,14,13,12,11,10,9,8,7,6,5,4,3,2,1),(1118,14,12.5,11),(1142,10.5,9),(1119,7,6.5),(1131,6),(1117,4),(1125,3,1.5),(1135,3,1.5),(1143,2.5,1),
 (1202,27),(1213,25.5),(1194,23.7),(1202,19),(1213,15),(1225,22.5),(1223,17),(1223,13),(1211,9.5),(1194,6,5,4,3,2,1),(1200,5,3,1),(1217,7,5,3,1),(1225,7,5,3,1),(1232,6,4,2),
 (1283,23.5),(1288,19.5),(1289,16),(1303,18),(1299,25.5),(1303,11.5),(1301,7),(1280,2,1),(1290,2,1),(1300,2,1),
 (1331,18.5,17,16),(1348,23.8),(1348,15),(1353,10),(1347,9),(1351,5.7),(1357,5.4),(1345,1),(1353,1),
 (1392,25.5),(1392,23),(1392,20),(1392,17.5),(1393,15),(1386,11.5,10),(1392,8.4,7,6,5,4,3,2,1,0.5),(1400,4),
]

PURPLE = "#54278f"
GREY = "#b8b8b8"
LINE = "#555555"
DASH = "#b4b4b4"


def expand(columns):
    xs, ys = [], []
    for col in columns:
        for v in col[1:]:
            xs.append(col[0])
            ys.append(v)
    return xs, ys


def vrule(h, color="#555555", w=2, dashed=False):
    if dashed:
        return Spacer(width=w, height=h, styles={"border-left": "1px dashed " + color, "box-sizing": "border-box"})
    return Spacer(width=w, height=h, styles={"background-color": color})


def hrule(w, color="#555555", h=2, dashed=False):
    if dashed:
        return Spacer(width=w, height=h, styles={"border-top": "1px dashed " + color, "box-sizing": "border-box"})
    return Spacer(width=w, height=h, styles={"background-color": color})


def header(w, h, items):
    """A strip that holds panel letters and titles as text."""
    p = figure(width=w, height=h, x_range=Range1d(0, w), y_range=Range1d(h, 0), x_axis_location=None, y_axis_location=None,
               min_border=0, output_backend="svg", toolbar_location=None)
    p.grid.visible = False
    p.outline_line_color = None
    for x, y, t, size, style, font, color in items:
        p.text([x], [y], text=[t], text_font=value(font), text_font_size=size, text_font_style=style,
               text_color=color, text_align="center", text_baseline="middle")
    return p


def heat(counts, colors, w, h, left, top, fw, fh, font, cell_size, tick_size, lab_size, ylab_standoff, ytick_standoff, xtick_standoff, xlab_standoff):
    p = figure(width=w, height=h, x_range=FactorRange(*CLASSES, range_padding=0.097, range_padding_units="absolute", factor_padding=0),
               y_range=FactorRange(*CLASSES, range_padding=0.097, range_padding_units="absolute", factor_padding=0),
               frame_width=fw, frame_height=fh, min_border_left=left, min_border_top=top,
               min_border_right=w - left - fw, min_border_bottom=h - top - fh,
               output_backend="svg", toolbar_location=None)
    src = ColumnDataSource(dict(x=HEAT_X, y=HEAT_Y, n=[str(c) for c in counts], c=colors))
    p.rect("x", "y", 1, 1, source=src, fill_color="c", line_color=None)
    p.text("x", "y", text="n", source=src, text_color="#dcdcdc", text_font=value(font), text_font_size=cell_size,
           text_align="center", text_baseline="middle")
    p.grid.visible = False
    p.outline_line_color = "#555555"
    p.outline_line_width = 1.5
    for ax in (p.xaxis[0], p.yaxis[0]):
        ax.axis_line_color = None
        ax.major_tick_line_color = "#333333"
        ax.major_tick_out = 5
        ax.major_tick_in = 0
        ax.minor_tick_line_color = None
        ax.major_label_text_font = font
        ax.major_label_text_font_size = tick_size
        ax.major_label_text_color = "#4d4d4d"
        ax.axis_label_text_font = font
        ax.axis_label_text_font_size = lab_size
        ax.axis_label_text_font_style = "normal"
        ax.axis_label_text_color = "#1a1a1a"
    p.xaxis.axis_label = "Variant quality class in the presence of additional samples"
    p.yaxis.axis_label = "Variant quality class in the absence of additional samples"
    p.yaxis.major_label_orientation = "vertical"
    p.xaxis.major_label_standoff = xtick_standoff
    p.xaxis.axis_label_standoff = xlab_standoff
    p.yaxis.major_label_standoff = ytick_standoff
    p.yaxis.axis_label_standoff = ylab_standoff
    return p


def manhattan(w, h, left, top, fw, fh, xr, yr, ticks, labels, bounds, floor, purple, grey, red, red_w, tick_out, tick_in,
              tick_size, ylab_size, ysize, std_x, std_xl, std_yl, std_yt, xlab_size):
    p = figure(width=w, height=h, x_range=Range1d(*xr), y_range=Range1d(*yr), frame_width=fw, frame_height=fh,
               min_border_left=left, min_border_top=top, min_border_right=w - left - fw, min_border_bottom=h - top - fh,
               output_backend="svg", toolbar_location=None)
    p.grid.visible = False
    p.outline_line_color = None
    starts, ends = bounds[:-1], bounds[1:]
    floor_src = ColumnDataSource(dict(x0=starts, x1=ends, y=[floor] * len(starts),
                                      c=[PURPLE if i % 2 == 0 else GREY for i in range(len(starts))]))
    p.segment("x0", "y", "x1", "y", source=floor_src, line_color="c", line_width=5)
    gx, gy = expand(grey)
    px, py = expand(purple)
    p.scatter(px, py, size=6.4, color=PURPLE, line_color=None)
    p.scatter(gx, gy, size=6.4, color=GREY, line_color=None)
    p.add_layout(Span(location=red, dimension="width", line_color="#e8474c", line_width=red_w, line_alpha=0.8))
    xa, ya = p.xaxis[0], p.yaxis[0]
    xa.ticker = FixedTicker(ticks=ticks)
    xa.major_label_overrides = {t: l for t, l in zip(ticks, labels)}
    xa.axis_line_color = None
    xa.major_tick_out = tick_out
    xa.major_tick_in = tick_in
    xa.major_tick_line_color = "#333333"
    xa.major_tick_line_width = 1.5
    xa.minor_tick_line_color = None
    xa.major_label_text_font = "Liberation Sans"
    xa.major_label_text_font_size = tick_size
    xa.major_label_text_color = "#222222"
    xa.major_label_standoff = std_x
    if xlab_size:
        xa.axis_label = "Chromosome"
        xa.axis_label_text_font = "Lato"
        xa.axis_label_text_font_size = xlab_size
        xa.axis_label_text_font_style = "normal"
        xa.axis_label_text_color = "#222222"
        xa.axis_label_standoff = std_xl
    ya.ticker = FixedTicker(ticks=[0, 20, 40, 60, 80, 100])
    ya.bounds = (0, 100)
    ya.axis_line_color = "#333333"
    ya.axis_line_width = 1.5
    ya.major_tick_line_color = "#333333"
    ya.major_tick_line_width = 1.5
    ya.major_tick_out = 15
    ya.major_tick_in = 0
    ya.minor_tick_line_color = None
    ya.major_label_text_font = "Liberation Sans"
    ya.major_label_text_font_size = ysize
    ya.major_label_text_color = "#222222"
    ya.major_label_standoff = std_yt
    ya.axis_label = "\u2212log\u2081\u2080(p)"
    ya.axis_label_text_font = "Liberation Sans"
    ya.axis_label_text_font_size = ylab_size
    ya.axis_label_text_font_style = "normal"
    ya.axis_label_text_color = "#222222"
    ya.axis_label_standoff = std_yl
    return p


W = 1419
BLACK = "#000000"
head_ab = header(W, 66, [(41.5, 37.5, "A", "40px", "bold", "Lato", BLACK), (376, 37.5, "Testicular Cancer", "42px", "normal", "Lato", BLACK),
                         (756, 37.5, "B", "40px", "bold", "Lato", BLACK), (1082.6, 37.5, "Breast Cancer", "42px", "normal", "Lato", BLACK)])
pa = heat(A_COUNTS, A_COLORS, 727, 691, 95, 9, 597, 598, "DejaVu Sans", "31.5px", "20.5px", "20.6px", 3, 5, 2, 0)
pb = heat(B_COUNTS, B_COLORS, 691, 691, 77, 9, 598, 598, "Liberation Sans", "32.4px", "20.5px", "20.7px", 6, 5, 2, 0)
head_c = header(W, 70, [(30.5, 29, "C", "40px", "bold", "Lato", BLACK), (724, 34, "Testicular Cancer", "42px", "normal", "Lato", BLACK)])
pc = manhattan(W, 538, 108, 10, 1305, 450, (112, 1417), (-0.9, 101), C_CHROM_TICKS, C_CHROM_LABELS, C_BOUNDS, C_FLOOR,
               C_PURPLE + C_PURPLE_LOW, C_GREY + C_GREY_LOW, 6.8, 2.2, 1, 9, "15px", "30px", "21px", 21, 3, 6, 14, "27px")
head_d = header(W, 70, [(34, 24, "D", "40px", "bold", "Lato", BLACK), (746, 34, "Breast Cancer", "42px", "normal", "Lato", BLACK)])
pd = manhattan(W, 574, 111, 10, 1302, 485, (115, 1417), (-0.5, 101), D_CHROM_TICKS, D_CHROM_LABELS, D_BOUNDS, D_FLOOR,
               D_PURPLE + D_PURPLE_LOW, D_GREY + D_GREY_LOW, 6.62, 1.8, 13, 1, "21px", "30px", "21px", 22, 0, 1, 15, None)
foot_d = header(W, 50, [(774, 25, "Chromosome", "25px", "normal", "Liberation Sans", "#222222")])

inner = column(
    hrule(W),
    row(head_ab, spacing=0),
    row(pa, vrule(691, DASH, 1, dashed=True), pb, spacing=0),
    hrule(W, DASH, 1, dashed=True),
    row(head_c, spacing=0),
    row(pc, spacing=0),
    hrule(W, DASH, 1, dashed=True),
    row(head_d, spacing=0),
    row(pd, spacing=0),
    row(foot_d, spacing=0),
    hrule(W),
    spacing=0,
)
outer = column(Spacer(width=1425, height=2), row(Spacer(width=2, height=2065), vrule(2065), inner, vrule(2065), spacing=0), spacing=0)
open("out.html", "w").write(file_html(outer, INLINE))
